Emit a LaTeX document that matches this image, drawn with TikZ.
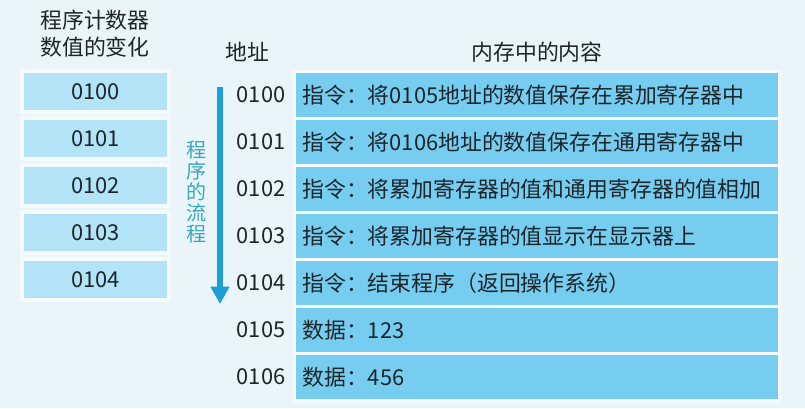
\documentclass[tikz,border=0pt]{standalone}
\usepackage{fontspec}
\setmainfont{Noto Sans CJK SC}
\usetikzlibrary{arrows.meta}
\definecolor{bgblue}{HTML}{E9F5FB}
\definecolor{rimblue}{HTML}{F4FAFD}
\definecolor{pcblue}{HTML}{B3E3F6}
\definecolor{memblue}{HTML}{76CDEF}
\definecolor{flowblue}{HTML}{1E9FD7}
\definecolor{flowtext}{HTML}{3AA7B9}
\definecolor{txt}{HTML}{1D252B}
\tikzset{
  label/.style={font=\fontsize{16.4}{20}\selectfont,text=txt,inner sep=0pt},
  pcbox/.style={label,fill=pcblue,draw=rimblue,line width=3pt,
    minimum width=110.25pt,minimum height=30.75pt},
  membox/.style={label,fill=memblue,anchor=west,align=left,
    text width=352.5pt,inner xsep=4.5pt,minimum height=33pt}
}
\begin{document}
\begin{tikzpicture}[x=0.75pt,y=-0.75pt,>=Stealth]
	\fill[bgblue] (0,0) rectangle (805,408);
	\useasboundingbox (0,0) rectangle (805,408);
	% titles
	\node[label,align=center,font=\fontsize{16.4}{20.25}\selectfont] (pctitle) at (95,34) {程序计数器\\数值的变化};
	\node[label] (addrtitle) at (247,52) {地址};
	\node[label] (memtitle) at (537,52) {内存中的内容};
	% program counter
	\foreach \v [count=\i from 0] in {0100,0101,0102,0103,0104}
		\node[pcbox] (pc\i) at (95.5,91.5+47*\i) {\v};
	% memory
	\fill[rimblue] (293,70) rectangle (781,403);
	\foreach \v/\c [count=\i from 0] in {0100/{指令：将0105地址的数值保存在累加寄存器中},
			0101/{指令：将0106地址的数值保存在通用寄存器中},
			0102/{指令：将累加寄存器的值和通用寄存器的值相加},
			0103/{指令：将累加寄存器的值显示在显示器上},
			0104/{指令：结束程序（返回操作系统）},
			0105/{数据：123},
			0106/{数据：456}}{
		\node[label] (addr\i) at (261,95+47*\i) {\v};
		\node[membox] (mem\i) at (296,95+47*\i) {\c};
	}
	% flow
	\coordinate (flowtop) at (220,87);
	\coordinate (flowbot) at (220,304);
	\draw[flowblue,line width=4.5pt,-{Triangle[width=13.5pt,length=13pt]}] (flowtop) -- (flowbot);
	\node[label,text=flowtext,align=center,font=\fontsize{15}{15.75}\selectfont] (flow) at (196,192) {程\\序\\的\\流\\程};
\end{tikzpicture}
\end{document}
